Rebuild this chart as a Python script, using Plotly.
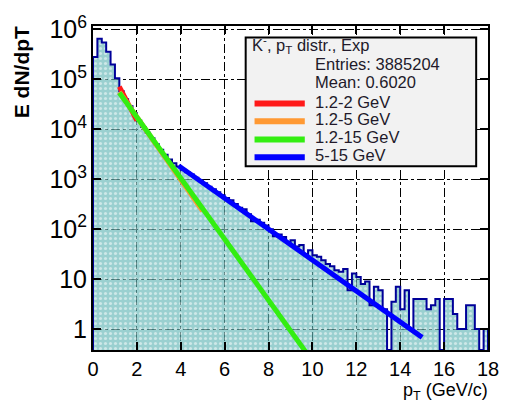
import plotly.graph_objects as go

# ---- K- pT spectrum, E dN/dpT in 0.2 GeV/c bins from 0 to 18 GeV/c ----
bin_width = 0.2
pt_start = 0.0
counts = [
    2.8e5, 6.5e5, 5.5e5, 3.6e5, 2.0e5, 1.05e5, 5.8e4, 4.0e4, 2.9e4, 2.1e4,
    1.5e4, 1.12e4, 8.5e3, 6.6e3, 5.0e3, 3.9e3, 3.1e3, 2.5e3, 2.1e3, 1.8e3,
    1550, 1380, 1250, 1070, 950, 830, 710, 630, 550, 480,
    420, 380, 320, 270, 250, 200, 145, 155, 135, 118,
    100, 72, 78, 70, 55, 60, 45, 48, 32, 38,
    30, 28, 24, 20, 18, 15, 14, 16, 6, 13,
    11, 8, 9, 3, 7, 6, 2.5, 0, 3.5, 7,
    2.5, 6, 1, 4, 4, 4, 2.5, 3, 4, 0,
    4, 4, 2, 1, 1, 3, 3, 1, 0, 1,
]

# ---- exponential fits (straight segments on a log axis) ----
fit_labels = ["1.2-2 GeV", "1.2-5 GeV", "1.2-15 GeV", "5-15 GeV"]
fit_pt = [[1.2, 2.0], [1.2, 5.0], [1.2, 15.0], [3.9, 15.0]]
fit_values = [[7.2e4, 1.5e4], [5.6e4, 230.0], [5.4e4, 2.0e-4], [1.86e3, 0.68]]
fit_colors = ["#ff1a1a", "#ff9933", "#33ee11", "#0000ff"]

# ---- statistics box ----
stats_title = "K<sup>-</sup>, p<sub>T</sub> distr., Exp"
stats_entries = 3885204
stats_mean = 0.6020

x_range = [0, 18]
y_log_range = [-0.42, 6.07]

# plot-area geometry in pixels (figure is 511 x 402)
W, H = 511, 402
L, R, T, B = 93, 494, 13, 350


def px(x):
    return (x - L) / (R - L)


def py(y):
    return (B - y) / (B - T)


edges = [pt_start + i * bin_width for i in range(len(counts) + 1)]
centers = [e + bin_width / 2 for e in edges[:-1]]
floor_val = 10 ** y_log_range[0]

FILL = "rgb(100,182,182)"
OUTLINE = "#000099"
FONT = "Liberation Sans, Arial, sans-serif"

fig = go.Figure()

# filled histogram body
fig.add_trace(go.Bar(
    x=centers, y=[c if c > 0 else None for c in counts], width=bin_width,
    marker=dict(
        color=FILL, opacity=0.65, line=dict(width=0),
        pattern=dict(shape=".", fgcolor="white", bgcolor=FILL, size=5, solidity=0.3),
    ),
    showlegend=False, hoverinfo="skip",
))

# histogram outline as a step line; empty bins drop to the axis floor
step_x = [edges[0]] + edges[:-1] + [edges[-1], edges[-1]]
step_y = ([floor_val] + [c if c > 0 else floor_val for c in counts]
          + [counts[-1] if counts[-1] > 0 else floor_val, floor_val])
fig.add_trace(go.Scatter(
    x=step_x, y=step_y, mode="lines", line=dict(color=OUTLINE, width=2, shape="hv"),
    showlegend=False, hoverinfo="skip",
))

for lab, xs, ys, col in zip(fit_labels, fit_pt, fit_values, fit_colors):
    fig.add_trace(go.Scatter(
        x=xs, y=ys, mode="lines", name=lab, line=dict(color=col, width=5),
        showlegend=False, hoverinfo="skip",
    ))

shapes = []
annotations = []

# stats box
shapes.append(dict(type="rect", xref="paper", yref="paper",
                   x0=px(248), x1=px(482), y0=py(159), y1=py(25),
                   fillcolor="#f2f2f2", line=dict(color="black", width=2), layer="above"))
txt_font = dict(family=FONT, size=16.5, color="#221a2a")
annotations.append(dict(text=stats_title, x=px(252), y=py(33), xref="paper", yref="paper",
                        xanchor="left", yanchor="middle", showarrow=False, font=txt_font))
annotations.append(dict(text=f"Entries: {stats_entries}", x=px(316), y=py(53), xref="paper", yref="paper",
                        xanchor="left", yanchor="middle", showarrow=False, font=txt_font))
annotations.append(dict(text=f"Mean: {stats_mean:.4f}", x=px(316), y=py(71), xref="paper", yref="paper",
                        xanchor="left", yanchor="middle", showarrow=False, font=txt_font))
row_text_y = [92, 110, 128.5, 147]
row_line_y = [93.5, 112, 131, 149.5]
for lab, col, ty, ly in zip(fit_labels, fit_colors, row_text_y, row_line_y):
    shapes.append(dict(type="line", xref="paper", yref="paper",
                       x0=px(257), x1=px(308), y0=py(ly), y1=py(ly),
                       line=dict(color=col, width=6), layer="above"))
    annotations.append(dict(text=lab, x=px(316), y=py(ty), xref="paper", yref="paper",
                            xanchor="left", yanchor="middle", showarrow=False, font=txt_font))

# axis titles
annotations.append(dict(text="<b>E dN/dpT</b>", x=px(20), y=py(61), xref="paper", yref="paper",
                        xanchor="center", yanchor="middle", textangle=-90, showarrow=False,
                        font=dict(family=FONT, size=21, color="black")))
annotations.append(dict(text="p<sub>T</sub> (GeV/c)", x=px(496), y=py(393), xref="paper", yref="paper",
                        xanchor="right", yanchor="middle", showarrow=False,
                        font=dict(family=FONT, size=18, color="black")))

axis_common = dict(
    showline=True, linecolor="black", linewidth=2, mirror="allticks",
    ticks="inside", ticklen=8, tickwidth=1.5, tickcolor="black",
    showgrid=True, gridcolor="black", gridwidth=1.3, griddash="dashdot",
    zeroline=False, ticklabeloverflow="allow",
    tickfont=dict(family=FONT, size=20, color="black"),
)

fig.update_layout(
    width=W, height=H,
    margin=dict(l=L, r=W - R, t=T, b=H - B),
    paper_bgcolor="white", plot_bgcolor="white",
    bargap=0, showlegend=False,
    xaxis=dict(range=x_range, tickmode="array", tickvals=list(range(0, 19, 2)), **axis_common),
    yaxis=dict(type="log", range=y_log_range, dtick=1, exponentformat="power", **axis_common),
    shapes=shapes, annotations=annotations,
)

fig.write_html("out.html")
